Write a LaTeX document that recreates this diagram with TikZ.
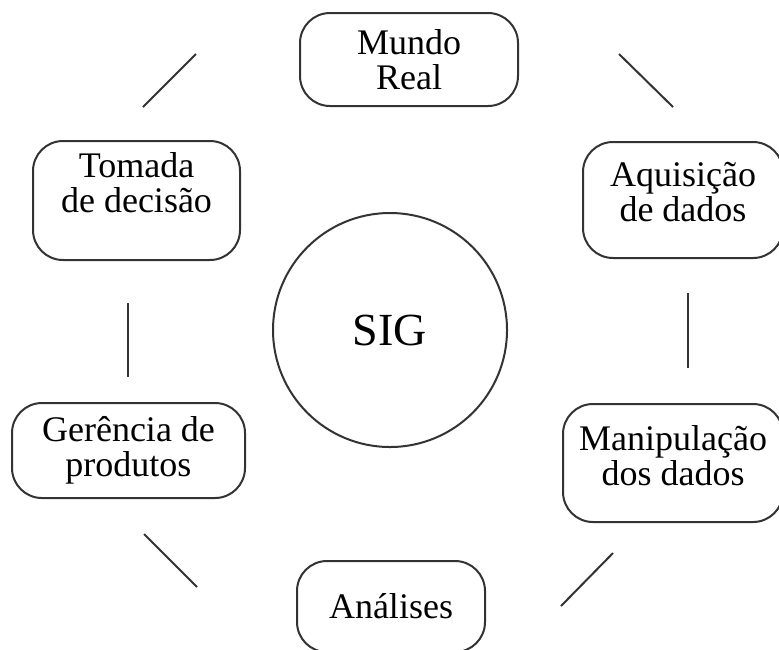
\documentclass[tikz,border=0pt]{standalone}
\usepackage{fontspec}
\setmainfont{Liberation Serif}
\usepackage{tikz}

\begin{document}
\begin{tikzpicture}[x=0.5pt,y=-0.5pt,
box/.style={draw=black!80,line width=1pt,rectangle,rounded corners=15pt,align=center,
    font=\fontsize{18}{17.5}\selectfont},
link/.style={draw=black!80,line width=1pt}]
\useasboundingbox (0,0) rectangle (779,649);
\node (sig) [circle,draw=black!80,line width=1pt,minimum size=117pt,
    font=\fontsize{23}{23}\selectfont] at (390,330) {SIG};
\node (mreal) [box,minimum width=109pt,minimum height=46.5pt] at (409,59.5) {Mundo\\Real};
\node (aqdad) [box,minimum width=100pt,minimum height=58pt,text depth=8pt] at (683,200) {Aquisição\\de dados};
\node (mandad) [box,minimum width=110pt,minimum height=59pt,text depth=8pt] at (673,463) {Manipulação\\dos dados};
\node (anal) [box,minimum width=94pt,minimum height=45.5pt] at (391,606.5) {Análises};
\node (gerprod) [box,minimum width=116.5pt,minimum height=47.5pt] at (128.5,450.5) {Gerência de\\produtos};
\node (tomdec) [box,minimum width=103.5pt,minimum height=59.5pt,text depth=18pt] at (136.5,200.5) {Tomada\\de decisão};
\coordinate (tla) at (143,107);
\coordinate (tlb) at (196,54);
\coordinate (tra) at (619,54);
\coordinate (trb) at (673,107);
\coordinate (ra) at (688,293);
\coordinate (rb) at (688,368);
\coordinate (bra) at (613,553);
\coordinate (brb) at (561,606);
\coordinate (bla) at (144,534);
\coordinate (blb) at (197,587);
\coordinate (la) at (128,303);
\coordinate (lb) at (128,377);
\draw [link] (tla) -- (tlb);
\draw [link] (tra) -- (trb);
\draw [link] (ra) -- (rb);
\draw [link] (bra) -- (brb);
\draw [link] (bla) -- (blb);
\draw [link] (la) -- (lb);
\end{tikzpicture}
\end{document}
